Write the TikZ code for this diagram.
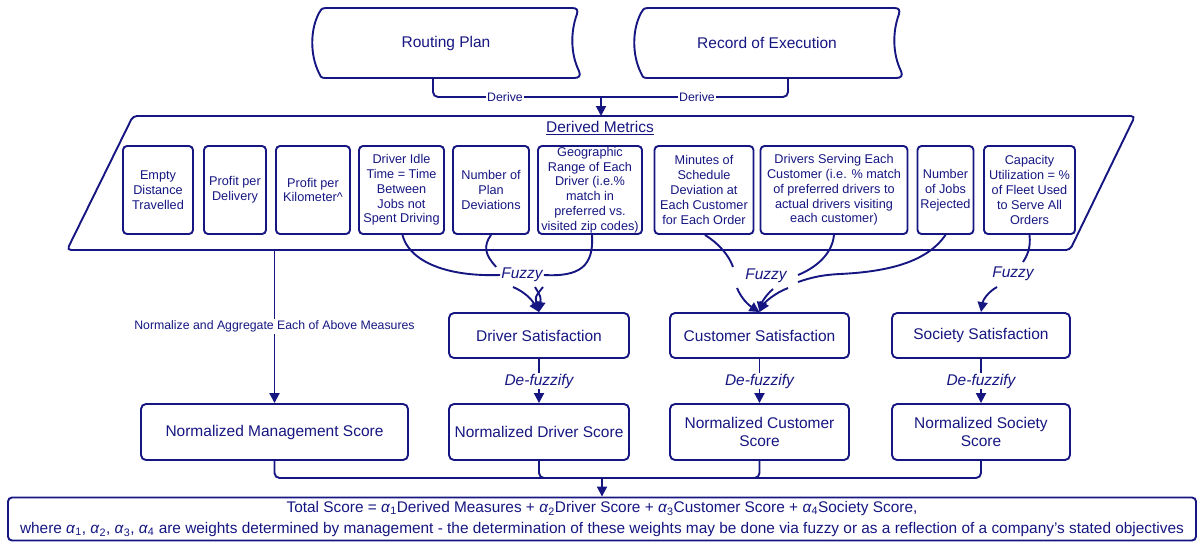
\documentclass[tikz,border=0pt]{standalone}
\usepackage{fontspec}
\setmainfont{Liberation Sans}
\usetikzlibrary{arrows.meta,calc}
\definecolor{nv}{RGB}{22,22,130}
\newcommand\alp[1]{\textit{α}\textsubscript{#1}}
\begin{document}
\begin{tikzpicture}[x=1pt,y=-1pt,
  every node/.style={text=nv},
  ln/.style={draw=nv,line width=1.9pt},
  arr/.style={ln,-{Triangle[length=10pt,width=10pt]}},
  mbox/.style={draw=nv,line width=1.9pt,rounded corners=4pt,align=center,inner sep=0pt,font=\fontsize{12.7}{14.8}\selectfont},
  sbox/.style={draw=nv,line width=1.9pt,rounded corners=5pt,align=center,inner sep=0pt,font=\fontsize{15.5}{18}\selectfont},
  lbl/.style={fill=white,inner sep=1.5pt,font=\fontsize{12.3}{14}\selectfont},
  fz/.style={font=\fontsize{15.5}{17}\selectfont\itshape,inner sep=1pt},
  ]
\useasboundingbox (0,0) rectangle (1203,542);
% top stored-data shapes
\draw[ln] (326,8) -- (572,8) .. controls (577,8) and (578,10) .. (577,14) .. controls (570,33) and (571,55) .. (579,71) .. controls (581,76) and (579,78) .. (574,78) -- (325,78) .. controls (321,78) and (320,76) .. (319,73) .. controls (310,55) and (310,30) .. (319,13) .. controls (320,10) and (322,8) .. (326,8) -- cycle;
\draw[ln] (648,8) -- (894,8) .. controls (899,8) and (900,10) .. (899,14) .. controls (892,33) and (893,55) .. (901,71) .. controls (903,76) and (901,78) .. (896,78) -- (647,78) .. controls (643,78) and (642,76) .. (641,73) .. controls (632,55) and (632,30) .. (641,13) .. controls (642,10) and (644,8) .. (648,8) -- cycle;
\node[minimum width=267,minimum height=70,inner sep=0,font=\fontsize{15.5}{18}\selectfont] (rp) at (446,43) {Routing Plan};
\node[minimum width=265,minimum height=70,inner sep=0,font=\fontsize{15.5}{18}\selectfont] (re) at (767,43) {Record of Execution};
\coordinate (dj) at (601,97);
\coordinate (ptop) at (601,116);
\draw[ln,rounded corners=5pt] ([xshift=-13pt]rp.south) |- (dj);
\draw[ln,rounded corners=5pt] ([xshift=21pt]re.south) |- (dj);
\draw[arr] (dj) -- (ptop);
\node[lbl] (d1) at (505,97) {Derive};
\node[lbl] (d2) at (697,97) {Derive};
% parallelogram
\draw[ln,rounded corners=4pt] (133,116) -- (1135,116) -- (1070,250) -- (67,250) -- cycle;
\node[font=\fontsize{15.5}{17}\selectfont] (dm) at (600,128) {\underline{Derived Metrics}};
% metric boxes
\node[mbox,minimum width=70,minimum height=88] (m1) at (158,190) {Empty\\Distance\\Travelled};
\node[mbox,minimum width=62,minimum height=88] (m2) at (235,190) {Profit per\\Delivery};
\node[mbox,minimum width=74,minimum height=88] (m3) at (313,190) {Profit per\\Kilometer\textasciicircum};
\node[mbox,minimum width=85,minimum height=88] (m4) at (401.5,190) {Driver Idle\\Time = Time\\Between\\Jobs not\\Spent Driving};
\node[mbox,minimum width=76,minimum height=88] (m5) at (491,190) {Number of\\Plan\\Deviations};
\node[mbox,minimum width=104,minimum height=88] (m6) at (590,190) {Geographic\\Range of Each\\Driver (i.e.\%\\match in\\preferred vs.\\visited zip codes)};
\node[mbox,minimum width=99,minimum height=88] (m7) at (704,190) {Minutes of\\Schedule\\Deviation at\\Each Customer\\for Each Order};
\node[mbox,minimum width=147,minimum height=88] (m8) at (834,190) {Drivers Serving Each\\Customer (i.e. \% match\\of preferred drivers to\\actual drivers visiting\\each customer)};
\node[mbox,minimum width=56,minimum height=88] (m9) at (945.5,190) {Number\\of Jobs\\Rejected};
\node[mbox,minimum width=91,minimum height=88] (m10) at (1029.5,190) {Capacity\\Utilization = \%\\of Fleet Used\\to Serve All\\Orders};
% satisfaction boxes
\node[sbox,minimum width=180,minimum height=45] (ds) at (539,335.5) {Driver Satisfaction};
\node[sbox,minimum width=179,minimum height=45] (cs) at (759.5,335.5) {Customer Satisfaction};
\node[sbox,minimum width=178,minimum height=45] (ss) at (981,335.5) {Society Satisfaction};
% normalized boxes
\node[sbox,minimum width=267,minimum height=56] (nms) at (274.5,432) {Normalized Management Score};
\node[sbox,minimum width=180,minimum height=56] (nds) at (539,432) {Normalized Driver Score};
\node[sbox,minimum width=179,minimum height=56] (ncs) at (759.5,432) {Normalized Customer\\Score};
\node[sbox,minimum width=178,minimum height=56] (nss) at (981,432) {Normalized Society\\Score};
% fuzzy labels
\node[fz] (f1) at (522,275) {Fuzzy};
\node[fz] (f2) at (766,276) {Fuzzy};
\node[fz] (f3) at (1013,274) {Fuzzy};
% driver fuzzy connectors
\draw[ln] ([xshift=1pt]m4.south) .. controls (408,258) and (440,277) .. (f1.west);
\draw[arr] (513,287) .. controls (525,292) and (532,300) .. (ds.north);
\draw[ln] (m5.south) .. controls (483,246) and (485,255) .. ([xshift=-4pt]f1.north west);
\draw[ln] ([xshift=2pt]m6.south) .. controls (594,266) and (580,277) .. (f1.east);
\draw[arr] (535,287) .. controls (541,297) .. (ds.north);
\draw[arr] (543,287) .. controls (535,297) .. (ds.north);
% customer fuzzy connectors
\draw[ln] ([xshift=1pt]m7.south) .. controls (718,243) and (729,255) .. (733,267);
\draw[arr] (737,288) .. controls (742,300) and (750,306) .. (cs.north);
\draw[ln] (m8.south) .. controls (832,255) and (815,268) .. (798,275);
\draw[arr] (788,288) .. controls (775,293) and (765,302) .. (cs.north);
\draw[ln] (m9.south) .. controls (925,265) and (880,272) .. (840,274) .. controls (820,275) and (810,278) .. (798,282);
\draw[arr] (773,289) .. controls (766,295) and (762,302) .. (cs.north);
% society fuzzy connectors
\draw[ln] (m10.south) .. controls (1031,248) and (1027,256) .. (1023,262);
\draw[arr] (997,287) .. controls (988,292) and (983,300) .. (ss.north);
% defuzzify
\draw[arr] (ds.south) -- (nds.north) node[midway,fz,fill=white] {De-fuzzify};
\draw[arr] (cs.south) -- (ncs.north) node[midway,fz,fill=white] {De-fuzzify};
\draw[arr] (ss.south) -- (nss.north) node[midway,fz,fill=white] {De-fuzzify};
% normalize
\coordinate (pb) at (274.5,250);
\draw[arr] (pb) -- (nms.north) node[midway,lbl] {Normalize and Aggregate Each of Above Measures};
% total
\node[draw=nv,line width=1.9pt,rounded corners=4pt,minimum width=1188,minimum height=43,inner sep=0pt,align=center,font=\fontsize{15.4}{21}\selectfont] (tot) at (602,519) {Total Score = \alp{1}Derived Measures + \alp{2}Driver Score + \alp{3}Customer Score + \alp{4}Society Score,\\where \alp{1}, \alp{2}, \alp{3}, \alp{4} are weights determined by management - the determination of these weights may be done via fuzzy or as a reflection of a company’s stated objectives};
\coordinate (bj) at (602,478);
\draw[ln,rounded corners=5pt] (nms.south) |- (bj);
\draw[ln,rounded corners=5pt] (nds.south) |- (bj);
\draw[ln,rounded corners=5pt] (ncs.south) |- (bj);
\draw[ln,rounded corners=5pt] (nss.south) |- (bj);
\draw[arr] (bj) -- (tot.north);
\end{tikzpicture}
\end{document}
